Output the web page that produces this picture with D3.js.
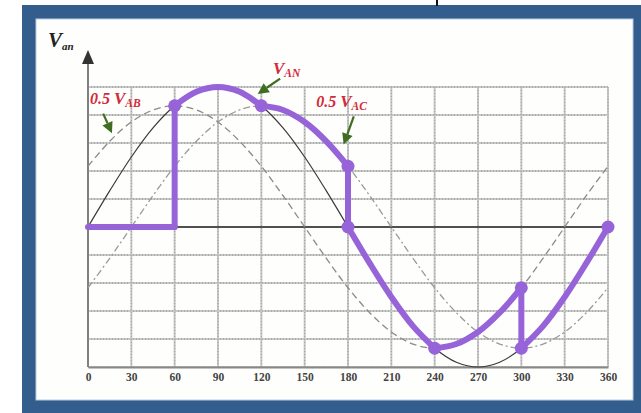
<!DOCTYPE html>
<html><head><meta charset="utf-8">
<script src="https://cdn.jsdelivr.net/npm/d3@7"></script>
<style>html,body{margin:0;padding:0;background:#fff;} svg{display:block}</style>
</head><body>
<svg id="c" width="641" height="413"></svg>
<script>
// ---- data (y in grid units: 5 = peak of V_AN) ----
const angles = [0,15,30,45,60,75,90,105,120,135,150,165,180,195,210,225,240,255,270,285,300,315,330,345,360];
const vAN  = [0,1.29,2.5,3.54,4.33,4.83,5,4.83,4.33,3.54,2.5,1.29,0,-1.29,-2.5,-3.54,-4.33,-4.83,-5,-4.83,-4.33,-3.54,-2.5,-1.29,0];
const vAB  = [2.17,3.06,3.75,4.18,4.33,4.18,3.75,3.06,2.17,1.12,0,-1.12,-2.17,-3.06,-3.75,-4.18,-4.33,-4.18,-3.75,-3.06,-2.17,-1.12,0,1.12,2.17];
const vAC  = [-2.17,-1.12,0,1.12,2.17,3.06,3.75,4.18,4.33,4.18,3.75,3.06,2.17,1.12,0,-1.12,-2.17,-3.06,-3.75,-4.18,-4.33,-4.18,-3.75,-3.06,-2.17];
const purpleDeg = [0,60,60,75,90,105,120,135,150,165,180,180,195,210,225,240,255,270,285,300,300,315,330,345,360];
const purpleVal = [0,0,4.33,4.83,5,4.83,4.33,4.18,3.75,3.06,2.17,0,-1.29,-2.5,-3.54,-4.33,-4.18,-3.75,-3.06,-2.17,-4.33,-3.54,-2.5,-1.29,0];
const dotDeg = [60,120,180,180,240,300,300,360];
const dotVal = [4.33,4.33,2.17,0,-4.33,-2.17,-4.33,0];
const xTicks = [0,30,60,90,120,150,180,210,240,270,300,330,360];
const yGrid  = [-5,-4,-3,-2,-1,0,1,2,3,4,5];

const svg = d3.select("#c");
// frame
svg.append("rect").attr("x",0).attr("y",0).attr("width",641).attr("height",413).attr("fill","#ffffff");
svg.append("rect").attr("x",22).attr("y",5).attr("width",619).attr("height",408).attr("fill","#325d8d");
svg.append("rect").attr("x",36).attr("y",19).attr("width",597).attr("height",381).attr("fill","#fefefc").attr("stroke","#b9cde0").attr("stroke-width",1);
svg.append("line").attr("x1",437).attr("x2",437).attr("y1",0).attr("y2",6).attr("stroke","#111").attr("stroke-width",2);

const x = d3.scaleLinear().domain([0,360]).range([88,608]);
const y = d3.scaleLinear().domain([-5,5]).range([367,87]);

// grid
const g = svg.append("g");
yGrid.forEach(v=>{
  g.append("line").attr("x1",x(0)).attr("x2",x(360)).attr("y1",y(v)).attr("y2",y(v)).attr("stroke","#c9c9c9").attr("stroke-width",2);
  g.append("line").attr("x1",x(0)).attr("x2",x(360)).attr("y1",y(v)).attr("y2",y(v)).attr("stroke","#8f8f8f").attr("stroke-width",1).attr("stroke-dasharray","1,2");
});
xTicks.forEach(d=>{
  g.append("line").attr("x1",x(d)).attr("x2",x(d)).attr("y1",y(-5)).attr("y2",y(5)).attr("stroke","#c6c6c6").attr("stroke-width",2);
  g.append("line").attr("x1",x(d)).attr("x2",x(d)).attr("y1",y(-5)).attr("y2",y(5)).attr("stroke","#a0a0a0").attr("stroke-width",1).attr("stroke-dasharray","1,2");
});
// zero line
svg.append("line").attr("x1",x(0)).attr("x2",x(360)).attr("y1",y(0)).attr("y2",y(0)).attr("stroke","#505050").attr("stroke-width",2);

// x axis
const xa = svg.append("g").attr("transform",`translate(0,${y(-5)})`)
  .call(d3.axisBottom(x).tickValues(xTicks).tickSize(0).tickPadding(6).tickFormat(d3.format("d")));
xa.select(".domain").attr("stroke","#888").attr("stroke-width",2);
xa.selectAll("text").attr("font-family","'Liberation Serif',serif").attr("font-size",11.5).attr("font-weight","bold").attr("fill","#444");

// y axis with arrow
svg.append("line").attr("x1",x(0)).attr("x2",x(0)).attr("y1",y(-5)).attr("y2",62).attr("stroke","#808080").attr("stroke-width",2);
svg.append("path").attr("d",`M${x(0)},50 L${x(0)-6},64 L${x(0)+6},64 Z`).attr("fill","#333");
const vl = svg.append("text").attr("x",48).attr("y",47).attr("font-family","'Liberation Serif',serif").attr("font-style","italic").attr("font-weight","bold").attr("fill","#222");
vl.append("tspan").attr("font-size",21).text("V");
vl.append("tspan").attr("font-size",11).attr("dy",3).text("an");

// reference curves
const line = d3.line().x(d=>x(d[0])).y(d=>y(d[1])).curve(d3.curveCatmullRom);
const ptsAN = angles.map((a,i)=>[a,vAN[i]]);
const ptsAB = angles.map((a,i)=>[a,vAB[i]]);
const ptsAC = angles.map((a,i)=>[a,vAC[i]]);
svg.append("path").attr("d",line(ptsAB)).attr("fill","none").attr("stroke","#8a8a8a").attr("stroke-width",1.3).attr("stroke-dasharray","7,4");
svg.append("path").attr("d",line(ptsAC)).attr("fill","none").attr("stroke","#9a9a9a").attr("stroke-width",1.3).attr("stroke-dasharray","7,3,2,3");
svg.append("path").attr("d",line(ptsAN)).attr("fill","none").attr("stroke","#3a3a3a").attr("stroke-width",1.2);

// purple switched waveform
const breaks = new Set(dotDeg);
const pp = purpleDeg.map((d,i)=>[d,purpleVal[i]]);
const runs = []; let cur=[pp[0]];
for(let i=1;i<pp.length;i++){
  cur.push(pp[i]);
  if(breaks.has(pp[i][0]) || (i<pp.length-1 && pp[i+1][0]===pp[i][0])){ runs.push(cur); cur=[pp[i]]; }
}
if(cur.length>1) runs.push(cur);
const purple = "#9763d8";
runs.forEach(r=>{
  svg.append("path").attr("d",line(r)).attr("fill","none").attr("stroke",purple).attr("stroke-width",6).attr("stroke-linecap","round").attr("stroke-linejoin","round");
});
svg.selectAll("circle.dot").data(dotDeg.map((d,i)=>[d,dotVal[i]])).enter().append("circle")
  .attr("cx",d=>x(d[0])).attr("cy",d=>y(d[1])).attr("r",6.5).attr("fill",purple);

// annotations
const red = "#d22a3a", green = "#3f6d22";
function label(deg,val,main,sub,pre){
  const t = svg.append("text").attr("x",x(deg)).attr("y",y(val)).attr("font-family","'Liberation Serif',serif").attr("font-style","italic").attr("font-weight","bold").attr("fill",red);
  if(pre) t.append("tspan").attr("font-size",16).text(pre);
  t.append("tspan").attr("font-size",17).text(main);
  t.append("tspan").attr("font-size",11.5).attr("dy",3).text(sub);
}
function arrow(d0,v0,d1,v1){
  const x0=x(d0),y0=y(v0),x1=x(d1),y1=y(v1);
  const ang=Math.atan2(y1-y0,x1-x0), L=11, W=5.5;
  const bx=x1-L*Math.cos(ang), by=y1-L*Math.sin(ang);
  svg.append("line").attr("x1",x0).attr("y1",y0).attr("x2",bx).attr("y2",by).attr("stroke",green).attr("stroke-width",2.2);
  const px=-Math.sin(ang)*W, py=Math.cos(ang)*W;
  svg.append("path").attr("d",`M${x1},${y1} L${bx+px},${by+py} L${bx-px},${by-py} Z`).attr("fill",green);
}
label(1.4,4.4,"V","AB","0.5 ");
arrow(10.5,4.05,16.6,3.35);
label(128,5.45,"V","AN","");
arrow(133,5.3,117.5,4.75);
label(158,4.3,"V","AC","0.5 ");
arrow(184,3.95,177,2.95);
</script>
</body></html>
